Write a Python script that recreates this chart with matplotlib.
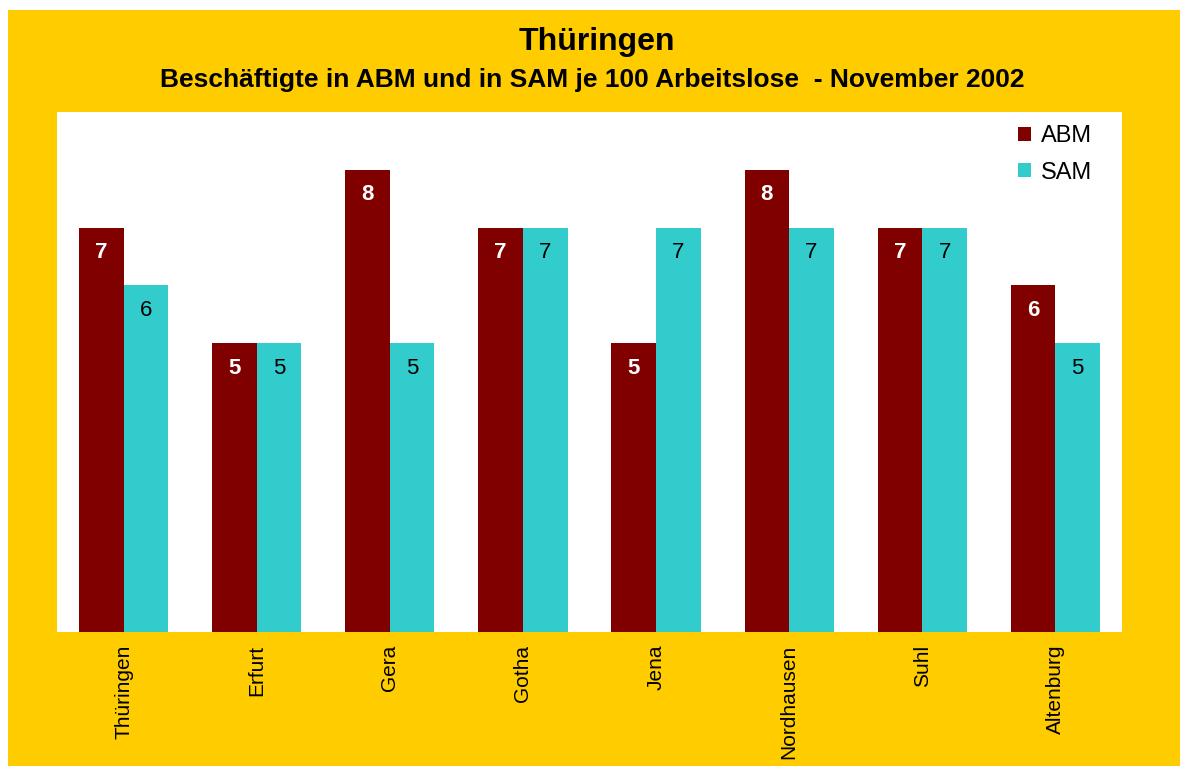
import matplotlib
matplotlib.use('Agg')
import matplotlib.pyplot as plt
from matplotlib.patches import Rectangle
import numpy as np

plt.rcParams['font.family'] = ['Liberation Sans', 'DejaVu Sans']

# data
regions = ['Thüringen', 'Erfurt', 'Gera', 'Gotha', 'Jena', 'Nordhausen', 'Suhl', 'Altenburg']
abm = [7, 5, 8, 7, 5, 8, 7, 6]
sam = [6, 5, 5, 7, 7, 7, 7, 5]

fig = plt.figure(figsize=(11.8, 7.66), dpi=100)
fig.patch.set_facecolor('white')
# yellow background panel
fig.patches.append(Rectangle((8 / 1180, 0), 1, 1 - 10 / 766, transform=fig.transFigure,
                             facecolor='#FFCC00', edgecolor='none', zorder=-10))

ax = fig.add_axes([57 / 1180, 1 - 632 / 766, (1122 - 57) / 1180, (632 - 112) / 766])
ax.set_facecolor('white')

x = np.arange(len(regions))
w = 0.335
b1 = ax.bar(x - w / 2, abm, w, color='#800000', label='ABM')
b2 = ax.bar(x + w / 2, sam, w, color='#33CCCC', label='SAM')

for rect, v in zip(b1, abm):
    ax.annotate(str(v), (rect.get_x() + rect.get_width() / 2, v), xytext=(0, -18),
                textcoords='offset points', ha='center', va='center',
                color='white', fontweight='bold', fontsize=16)
for rect, v in zip(b2, sam):
    ax.annotate(str(v), (rect.get_x() + rect.get_width() / 2, v), xytext=(0, -18),
                textcoords='offset points', ha='center', va='center',
                color='black', fontsize=16)

ax.set_xlim(-0.5, len(regions) - 0.5)
ax.set_ylim(0, 9)
ax.set_yticks([])
ax.set_xticks(x)
ax.set_xticklabels(regions, rotation=90, fontsize=15, va='top')
ax.tick_params(axis='x', length=0, pad=9)
for s in ax.spines.values():
    s.set_visible(False)

ax.legend(loc='upper right', frameon=False, fontsize=17, handlelength=0.55, handleheight=0.55,
          handletextpad=0.45, labelspacing=0.6, borderaxespad=0.0,
          bbox_to_anchor=(1 - 20 / 1065, 1 - 4 / 520))

fig.text(597 / 1180, 1 - 42 / 766, 'Thüringen', ha='center', va='center', fontsize=23, fontweight='bold')
fig.text(592 / 1180, 1 - 80 / 766, 'Beschäftigte in ABM und in SAM je 100 Arbeitslose  - November 2002',
         ha='center', va='center', fontsize=19, fontweight='bold')

fig.savefig('out.png', dpi=100)
